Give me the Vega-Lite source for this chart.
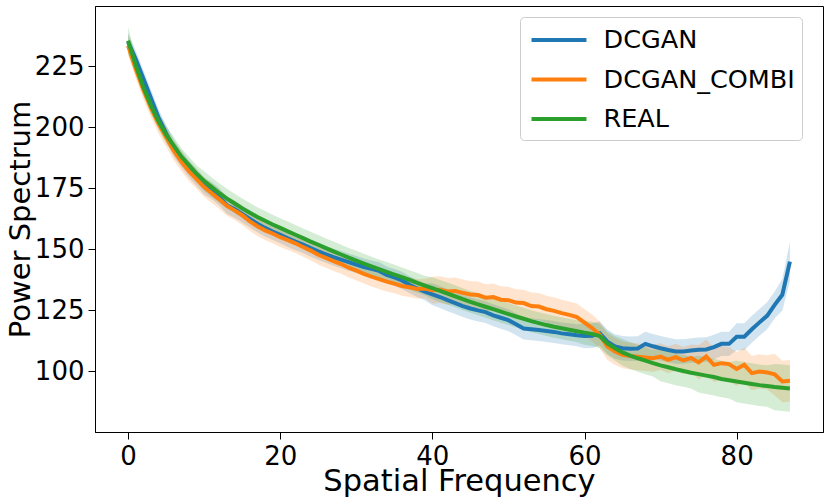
{
  "$schema": "https://vega.github.io/schema/vega-lite/v6.json",
  "autosize": {"type": "none"},
  "padding": {"left": 95, "top": 6, "right": 7, "bottom": 71},
  "width": 728,
  "height": 426,
  "config": {
    "font": "DejaVu Sans",
    "view": {"stroke": "black", "strokeWidth": 1},
    "axis": {"grid": false, "domainColor": "black", "tickColor": "black", "tickSize": 7, "labelFontSize": 26, "labelColor": "black", "titleFontWeight": "normal", "titleColor": "black", "labelPadding": 4}
  },
  "data": {"values": [
{"s":"DCGAN","x":0,"y":235,"lo":231.5,"hi":238.5},
{"s":"DCGAN","x":1,"y":228,"lo":224.5,"hi":231.5},
{"s":"DCGAN","x":2,"y":220,"lo":216.5,"hi":223.5},
{"s":"DCGAN","x":3,"y":212,"lo":208.5,"hi":215.5},
{"s":"DCGAN","x":4,"y":204,"lo":200.5,"hi":207.5},
{"s":"DCGAN","x":5,"y":197.5,"lo":194,"hi":201},
{"s":"DCGAN","x":6,"y":191.5,"lo":188,"hi":195},
{"s":"DCGAN","x":7,"y":187,"lo":183.5,"hi":190.5},
{"s":"DCGAN","x":8,"y":183,"lo":179.5,"hi":186.5},
{"s":"DCGAN","x":9,"y":179.5,"lo":176,"hi":183},
{"s":"DCGAN","x":10,"y":176,"lo":172.5,"hi":179.5},
{"s":"DCGAN","x":11,"y":174,"lo":170.5,"hi":177.5},
{"s":"DCGAN","x":12,"y":171.5,"lo":168,"hi":175},
{"s":"DCGAN","x":13,"y":168,"lo":164.5,"hi":171.5},
{"s":"DCGAN","x":14,"y":166.5,"lo":163,"hi":170},
{"s":"DCGAN","x":15,"y":164.5,"lo":161,"hi":168},
{"s":"DCGAN","x":16,"y":162.5,"lo":159,"hi":166},
{"s":"DCGAN","x":17,"y":160.5,"lo":157,"hi":164},
{"s":"DCGAN","x":18,"y":158.8,"lo":155.3,"hi":162.3},
{"s":"DCGAN","x":19,"y":157.3,"lo":153.8,"hi":160.8},
{"s":"DCGAN","x":20,"y":156,"lo":152.5,"hi":159.5},
{"s":"DCGAN","x":21,"y":154.5,"lo":151,"hi":158},
{"s":"DCGAN","x":22,"y":153.2,"lo":149.7,"hi":156.7},
{"s":"DCGAN","x":23,"y":152,"lo":148.5,"hi":155.5},
{"s":"DCGAN","x":24,"y":150.5,"lo":147,"hi":154},
{"s":"DCGAN","x":25,"y":149.2,"lo":145.7,"hi":152.7},
{"s":"DCGAN","x":26,"y":148,"lo":144.5,"hi":151.5},
{"s":"DCGAN","x":27,"y":146.8,"lo":143.3,"hi":150.3},
{"s":"DCGAN","x":28,"y":145.8,"lo":142.3,"hi":149.3},
{"s":"DCGAN","x":29,"y":144.8,"lo":141.3,"hi":148.3},
{"s":"DCGAN","x":30,"y":143.8,"lo":140.3,"hi":147.3},
{"s":"DCGAN","x":31,"y":142.8,"lo":139.3,"hi":146.3},
{"s":"DCGAN","x":32,"y":142,"lo":138.5,"hi":145.5},
{"s":"DCGAN","x":33,"y":141.2,"lo":137.7,"hi":144.7},
{"s":"DCGAN","x":34,"y":139.5,"lo":136,"hi":143},
{"s":"DCGAN","x":35,"y":138.5,"lo":135,"hi":142},
{"s":"DCGAN","x":36,"y":137.3,"lo":133.8,"hi":140.8},
{"s":"DCGAN","x":37,"y":135.5,"lo":132,"hi":139},
{"s":"DCGAN","x":38,"y":134,"lo":130.5,"hi":137.5},
{"s":"DCGAN","x":39,"y":132.7,"lo":129.2,"hi":136.2},
{"s":"DCGAN","x":40,"y":131.6,"lo":127.1,"hi":136.1},
{"s":"DCGAN","x":41,"y":130.5,"lo":126,"hi":135},
{"s":"DCGAN","x":42,"y":129.2,"lo":124.7,"hi":133.7},
{"s":"DCGAN","x":43,"y":128,"lo":123.5,"hi":132.5},
{"s":"DCGAN","x":44,"y":126.8,"lo":122.3,"hi":131.3},
{"s":"DCGAN","x":45,"y":125.8,"lo":121.3,"hi":130.3},
{"s":"DCGAN","x":46,"y":125,"lo":120.5,"hi":129.5},
{"s":"DCGAN","x":47,"y":124.3,"lo":119.8,"hi":128.8},
{"s":"DCGAN","x":48,"y":123,"lo":118.5,"hi":127.5},
{"s":"DCGAN","x":49,"y":122,"lo":117.5,"hi":126.5},
{"s":"DCGAN","x":50,"y":121,"lo":116.5,"hi":125.5},
{"s":"DCGAN","x":51,"y":119.3,"lo":114.8,"hi":123.8},
{"s":"DCGAN","x":52,"y":117.6,"lo":113.1,"hi":122.1},
{"s":"DCGAN","x":53,"y":117.3,"lo":112.8,"hi":121.8},
{"s":"DCGAN","x":54,"y":117,"lo":112.5,"hi":121.5},
{"s":"DCGAN","x":55,"y":116.6,"lo":112.1,"hi":121.1},
{"s":"DCGAN","x":56,"y":116.2,"lo":111.7,"hi":120.7},
{"s":"DCGAN","x":57,"y":115.6,"lo":111.1,"hi":120.1},
{"s":"DCGAN","x":58,"y":115.2,"lo":110.7,"hi":119.7},
{"s":"DCGAN","x":59,"y":114.8,"lo":110.3,"hi":119.3},
{"s":"DCGAN","x":60,"y":114.5,"lo":109.5,"hi":119.5},
{"s":"DCGAN","x":61,"y":114.6,"lo":109.6,"hi":119.6},
{"s":"DCGAN","x":62,"y":115.6,"lo":110.6,"hi":120.6},
{"s":"DCGAN","x":63,"y":112.2,"lo":107.2,"hi":117.2},
{"s":"DCGAN","x":64,"y":110.2,"lo":105.2,"hi":115.2},
{"s":"DCGAN","x":65,"y":109.5,"lo":104.5,"hi":114.5},
{"s":"DCGAN","x":66,"y":109.3,"lo":104.3,"hi":114.3},
{"s":"DCGAN","x":67,"y":109.4,"lo":104.4,"hi":114.4},
{"s":"DCGAN","x":68,"y":111.3,"lo":106.3,"hi":116.3},
{"s":"DCGAN","x":69,"y":110.3,"lo":105.3,"hi":115.3},
{"s":"DCGAN","x":70,"y":109.5,"lo":104.5,"hi":114.5},
{"s":"DCGAN","x":71,"y":108.8,"lo":103.8,"hi":113.8},
{"s":"DCGAN","x":72,"y":108.2,"lo":103.2,"hi":113.2},
{"s":"DCGAN","x":73,"y":108.2,"lo":103.2,"hi":113.2},
{"s":"DCGAN","x":74,"y":108.6,"lo":103.6,"hi":113.6},
{"s":"DCGAN","x":75,"y":108.9,"lo":103.9,"hi":113.9},
{"s":"DCGAN","x":76,"y":109,"lo":104,"hi":114},
{"s":"DCGAN","x":77,"y":110,"lo":105,"hi":115},
{"s":"DCGAN","x":78,"y":111.3,"lo":106.3,"hi":116.3},
{"s":"DCGAN","x":79,"y":111.3,"lo":106.3,"hi":116.3},
{"s":"DCGAN","x":80,"y":114.2,"lo":108.7,"hi":119.7},
{"s":"DCGAN","x":81,"y":114.2,"lo":108.7,"hi":119.7},
{"s":"DCGAN","x":82,"y":117.3,"lo":111.8,"hi":122.8},
{"s":"DCGAN","x":83,"y":120.1,"lo":114.6,"hi":125.6},
{"s":"DCGAN","x":84,"y":122.8,"lo":117.3,"hi":128.3},
{"s":"DCGAN","x":85,"y":127.3,"lo":121.8,"hi":132.8},
{"s":"DCGAN","x":86,"y":131.4,"lo":124.9,"hi":137.9},
{"s":"DCGAN","x":87,"y":145,"lo":137,"hi":153},
{"s":"DCGAN_COMBI","x":0,"y":233.5,"lo":229.5,"hi":237.5},
{"s":"DCGAN_COMBI","x":1,"y":224,"lo":220,"hi":228},
{"s":"DCGAN_COMBI","x":2,"y":215.5,"lo":211.5,"hi":219.5},
{"s":"DCGAN_COMBI","x":3,"y":208,"lo":204,"hi":212},
{"s":"DCGAN_COMBI","x":4,"y":201.5,"lo":197.5,"hi":205.5},
{"s":"DCGAN_COMBI","x":5,"y":196,"lo":192,"hi":200},
{"s":"DCGAN_COMBI","x":6,"y":190.5,"lo":186.5,"hi":194.5},
{"s":"DCGAN_COMBI","x":7,"y":186,"lo":182,"hi":190},
{"s":"DCGAN_COMBI","x":8,"y":182,"lo":178,"hi":186},
{"s":"DCGAN_COMBI","x":9,"y":178.8,"lo":174.8,"hi":182.8},
{"s":"DCGAN_COMBI","x":10,"y":175.5,"lo":171.5,"hi":179.5},
{"s":"DCGAN_COMBI","x":11,"y":173,"lo":169,"hi":177},
{"s":"DCGAN_COMBI","x":12,"y":170.5,"lo":166.5,"hi":174.5},
{"s":"DCGAN_COMBI","x":13,"y":167.8,"lo":163.8,"hi":171.8},
{"s":"DCGAN_COMBI","x":14,"y":166,"lo":162,"hi":170},
{"s":"DCGAN_COMBI","x":15,"y":164,"lo":160,"hi":168},
{"s":"DCGAN_COMBI","x":16,"y":161.5,"lo":157.5,"hi":165.5},
{"s":"DCGAN_COMBI","x":17,"y":159.5,"lo":155.5,"hi":163.5},
{"s":"DCGAN_COMBI","x":18,"y":157.8,"lo":153.8,"hi":161.8},
{"s":"DCGAN_COMBI","x":19,"y":156.5,"lo":152.5,"hi":160.5},
{"s":"DCGAN_COMBI","x":20,"y":155,"lo":151,"hi":159},
{"s":"DCGAN_COMBI","x":21,"y":153.8,"lo":149.8,"hi":157.8},
{"s":"DCGAN_COMBI","x":22,"y":152.5,"lo":148.5,"hi":156.5},
{"s":"DCGAN_COMBI","x":23,"y":151,"lo":147,"hi":155},
{"s":"DCGAN_COMBI","x":24,"y":149.5,"lo":145.5,"hi":153.5},
{"s":"DCGAN_COMBI","x":25,"y":147.8,"lo":143.8,"hi":151.8},
{"s":"DCGAN_COMBI","x":26,"y":146.5,"lo":142.5,"hi":150.5},
{"s":"DCGAN_COMBI","x":27,"y":145.2,"lo":141.2,"hi":149.2},
{"s":"DCGAN_COMBI","x":28,"y":144,"lo":140,"hi":148},
{"s":"DCGAN_COMBI","x":29,"y":142.5,"lo":138.5,"hi":146.5},
{"s":"DCGAN_COMBI","x":30,"y":141.3,"lo":137.3,"hi":145.3},
{"s":"DCGAN_COMBI","x":31,"y":140,"lo":136,"hi":144},
{"s":"DCGAN_COMBI","x":32,"y":138.8,"lo":134.8,"hi":142.8},
{"s":"DCGAN_COMBI","x":33,"y":137.8,"lo":133.8,"hi":141.8},
{"s":"DCGAN_COMBI","x":34,"y":136.8,"lo":132.8,"hi":140.8},
{"s":"DCGAN_COMBI","x":35,"y":136,"lo":132,"hi":140},
{"s":"DCGAN_COMBI","x":36,"y":135,"lo":131,"hi":139},
{"s":"DCGAN_COMBI","x":37,"y":134.5,"lo":130.5,"hi":138.5},
{"s":"DCGAN_COMBI","x":38,"y":133.8,"lo":129.8,"hi":137.8},
{"s":"DCGAN_COMBI","x":39,"y":134,"lo":130,"hi":138},
{"s":"DCGAN_COMBI","x":40,"y":133.3,"lo":127.8,"hi":138.8},
{"s":"DCGAN_COMBI","x":41,"y":133.5,"lo":128,"hi":139},
{"s":"DCGAN_COMBI","x":42,"y":132.8,"lo":127.3,"hi":138.3},
{"s":"DCGAN_COMBI","x":43,"y":133,"lo":127.5,"hi":138.5},
{"s":"DCGAN_COMBI","x":44,"y":132.2,"lo":126.7,"hi":137.7},
{"s":"DCGAN_COMBI","x":45,"y":131.5,"lo":126,"hi":137},
{"s":"DCGAN_COMBI","x":46,"y":131.3,"lo":125.8,"hi":136.8},
{"s":"DCGAN_COMBI","x":47,"y":130.2,"lo":124.7,"hi":135.7},
{"s":"DCGAN_COMBI","x":48,"y":130.5,"lo":125,"hi":136},
{"s":"DCGAN_COMBI","x":49,"y":129.4,"lo":123.9,"hi":134.9},
{"s":"DCGAN_COMBI","x":50,"y":129.2,"lo":123.7,"hi":134.7},
{"s":"DCGAN_COMBI","x":51,"y":128.2,"lo":122.7,"hi":133.7},
{"s":"DCGAN_COMBI","x":52,"y":128,"lo":122.5,"hi":133.5},
{"s":"DCGAN_COMBI","x":53,"y":126.8,"lo":121.3,"hi":132.3},
{"s":"DCGAN_COMBI","x":54,"y":126.6,"lo":121.1,"hi":132.1},
{"s":"DCGAN_COMBI","x":55,"y":125.5,"lo":120,"hi":131},
{"s":"DCGAN_COMBI","x":56,"y":124.8,"lo":119.3,"hi":130.3},
{"s":"DCGAN_COMBI","x":57,"y":123.9,"lo":118.4,"hi":129.4},
{"s":"DCGAN_COMBI","x":58,"y":123.2,"lo":117.7,"hi":128.7},
{"s":"DCGAN_COMBI","x":59,"y":122.3,"lo":116.8,"hi":127.8},
{"s":"DCGAN_COMBI","x":60,"y":120,"lo":114.5,"hi":125.5},
{"s":"DCGAN_COMBI","x":61,"y":117.8,"lo":112.3,"hi":123.3},
{"s":"DCGAN_COMBI","x":62,"y":115,"lo":109.5,"hi":120.5},
{"s":"DCGAN_COMBI","x":63,"y":110.2,"lo":104.7,"hi":115.7},
{"s":"DCGAN_COMBI","x":64,"y":108.2,"lo":102.7,"hi":113.7},
{"s":"DCGAN_COMBI","x":65,"y":106.8,"lo":101.3,"hi":112.3},
{"s":"DCGAN_COMBI","x":66,"y":106.3,"lo":100.8,"hi":111.8},
{"s":"DCGAN_COMBI","x":67,"y":106,"lo":100.5,"hi":111.5},
{"s":"DCGAN_COMBI","x":68,"y":105.7,"lo":100.2,"hi":111.2},
{"s":"DCGAN_COMBI","x":69,"y":105.4,"lo":99.9,"hi":110.9},
{"s":"DCGAN_COMBI","x":70,"y":106.1,"lo":100.6,"hi":111.6},
{"s":"DCGAN_COMBI","x":71,"y":104.8,"lo":99.3,"hi":110.3},
{"s":"DCGAN_COMBI","x":72,"y":105.9,"lo":100.4,"hi":111.4},
{"s":"DCGAN_COMBI","x":73,"y":104.5,"lo":99,"hi":110},
{"s":"DCGAN_COMBI","x":74,"y":105.5,"lo":100,"hi":111},
{"s":"DCGAN_COMBI","x":75,"y":103.7,"lo":96.7,"hi":110.7},
{"s":"DCGAN_COMBI","x":76,"y":106.1,"lo":99.1,"hi":113.1},
{"s":"DCGAN_COMBI","x":77,"y":102.7,"lo":95.7,"hi":109.7},
{"s":"DCGAN_COMBI","x":78,"y":103.4,"lo":96.4,"hi":110.4},
{"s":"DCGAN_COMBI","x":79,"y":103,"lo":96,"hi":110},
{"s":"DCGAN_COMBI","x":80,"y":101,"lo":94,"hi":108},
{"s":"DCGAN_COMBI","x":81,"y":102.7,"lo":95.7,"hi":109.7},
{"s":"DCGAN_COMBI","x":82,"y":99.3,"lo":92.3,"hi":106.3},
{"s":"DCGAN_COMBI","x":83,"y":100,"lo":93,"hi":107},
{"s":"DCGAN_COMBI","x":84,"y":99.6,"lo":92.6,"hi":106.6},
{"s":"DCGAN_COMBI","x":85,"y":98.8,"lo":90.3,"hi":107.3},
{"s":"DCGAN_COMBI","x":86,"y":95.9,"lo":87.4,"hi":104.4},
{"s":"DCGAN_COMBI","x":87,"y":96.2,"lo":87.7,"hi":104.7},
{"s":"REAL","x":0,"y":235.5,"lo":230,"hi":241},
{"s":"REAL","x":1,"y":225.5,"lo":222,"hi":229},
{"s":"REAL","x":2,"y":216.5,"lo":213,"hi":220},
{"s":"REAL","x":3,"y":209,"lo":205.5,"hi":212.5},
{"s":"REAL","x":4,"y":202.5,"lo":199,"hi":206},
{"s":"REAL","x":5,"y":197,"lo":193.5,"hi":200.5},
{"s":"REAL","x":6,"y":192.5,"lo":189,"hi":196},
{"s":"REAL","x":7,"y":188,"lo":184.5,"hi":191.5},
{"s":"REAL","x":8,"y":184.5,"lo":181,"hi":188},
{"s":"REAL","x":9,"y":181,"lo":177.5,"hi":184.5},
{"s":"REAL","x":10,"y":178,"lo":174,"hi":182},
{"s":"REAL","x":11,"y":175.5,"lo":171.5,"hi":179.5},
{"s":"REAL","x":12,"y":173,"lo":169,"hi":177},
{"s":"REAL","x":13,"y":170.8,"lo":166.8,"hi":174.8},
{"s":"REAL","x":14,"y":168.8,"lo":164.8,"hi":172.8},
{"s":"REAL","x":15,"y":166.8,"lo":162.8,"hi":170.8},
{"s":"REAL","x":16,"y":165,"lo":161,"hi":169},
{"s":"REAL","x":17,"y":163.3,"lo":159.3,"hi":167.3},
{"s":"REAL","x":18,"y":161.7,"lo":157.7,"hi":165.7},
{"s":"REAL","x":19,"y":160.2,"lo":156.2,"hi":164.2},
{"s":"REAL","x":20,"y":158.8,"lo":154.8,"hi":162.8},
{"s":"REAL","x":21,"y":157.4,"lo":153.4,"hi":161.4},
{"s":"REAL","x":22,"y":156,"lo":152,"hi":160},
{"s":"REAL","x":23,"y":154.6,"lo":150.6,"hi":158.6},
{"s":"REAL","x":24,"y":153.2,"lo":149.2,"hi":157.2},
{"s":"REAL","x":25,"y":151.9,"lo":147.9,"hi":155.9},
{"s":"REAL","x":26,"y":150.5,"lo":146.5,"hi":154.5},
{"s":"REAL","x":27,"y":149.2,"lo":145.2,"hi":153.2},
{"s":"REAL","x":28,"y":147.9,"lo":143.9,"hi":151.9},
{"s":"REAL","x":29,"y":146.6,"lo":142.6,"hi":150.6},
{"s":"REAL","x":30,"y":145.4,"lo":141.4,"hi":149.4},
{"s":"REAL","x":31,"y":144.2,"lo":140.2,"hi":148.2},
{"s":"REAL","x":32,"y":143,"lo":139,"hi":147},
{"s":"REAL","x":33,"y":141.9,"lo":137.9,"hi":145.9},
{"s":"REAL","x":34,"y":140.8,"lo":136.8,"hi":144.8},
{"s":"REAL","x":35,"y":139.7,"lo":135.7,"hi":143.7},
{"s":"REAL","x":36,"y":138.6,"lo":134.6,"hi":142.6},
{"s":"REAL","x":37,"y":137.5,"lo":133.5,"hi":141.5},
{"s":"REAL","x":38,"y":136.3,"lo":132.3,"hi":140.3},
{"s":"REAL","x":39,"y":135.2,"lo":131.2,"hi":139.2},
{"s":"REAL","x":40,"y":134.1,"lo":129.6,"hi":138.6},
{"s":"REAL","x":41,"y":133,"lo":128.5,"hi":137.5},
{"s":"REAL","x":42,"y":131.9,"lo":127.4,"hi":136.4},
{"s":"REAL","x":43,"y":130.8,"lo":126.3,"hi":135.3},
{"s":"REAL","x":44,"y":129.6,"lo":125.1,"hi":134.1},
{"s":"REAL","x":45,"y":128.5,"lo":124,"hi":133},
{"s":"REAL","x":46,"y":127.5,"lo":123,"hi":132},
{"s":"REAL","x":47,"y":126.5,"lo":122,"hi":131},
{"s":"REAL","x":48,"y":125.5,"lo":121,"hi":130},
{"s":"REAL","x":49,"y":124.5,"lo":120,"hi":129},
{"s":"REAL","x":50,"y":123.5,"lo":119,"hi":128},
{"s":"REAL","x":51,"y":122.5,"lo":118,"hi":127},
{"s":"REAL","x":52,"y":121.6,"lo":117.1,"hi":126.1},
{"s":"REAL","x":53,"y":120.6,"lo":116.1,"hi":125.1},
{"s":"REAL","x":54,"y":119.8,"lo":115.3,"hi":124.3},
{"s":"REAL","x":55,"y":119,"lo":114.5,"hi":123.5},
{"s":"REAL","x":56,"y":118.3,"lo":113.8,"hi":122.8},
{"s":"REAL","x":57,"y":117.7,"lo":113.2,"hi":122.2},
{"s":"REAL","x":58,"y":117.1,"lo":112.6,"hi":121.6},
{"s":"REAL","x":59,"y":116.5,"lo":112,"hi":121},
{"s":"REAL","x":60,"y":115.9,"lo":110.9,"hi":120.9},
{"s":"REAL","x":61,"y":115.4,"lo":110.4,"hi":120.4},
{"s":"REAL","x":62,"y":114.5,"lo":109.5,"hi":119.5},
{"s":"REAL","x":63,"y":111.5,"lo":106.5,"hi":116.5},
{"s":"REAL","x":64,"y":109.5,"lo":104.5,"hi":114.5},
{"s":"REAL","x":65,"y":107.8,"lo":102.3,"hi":113.3},
{"s":"REAL","x":66,"y":106.5,"lo":101,"hi":112},
{"s":"REAL","x":67,"y":105.4,"lo":99.9,"hi":110.9},
{"s":"REAL","x":68,"y":104.4,"lo":98.9,"hi":109.9},
{"s":"REAL","x":69,"y":103.4,"lo":97.9,"hi":108.9},
{"s":"REAL","x":70,"y":102.5,"lo":96,"hi":109},
{"s":"REAL","x":71,"y":101.7,"lo":95.2,"hi":108.2},
{"s":"REAL","x":72,"y":100.9,"lo":94.4,"hi":107.4},
{"s":"REAL","x":73,"y":100.2,"lo":93.7,"hi":106.7},
{"s":"REAL","x":74,"y":99.5,"lo":93,"hi":106},
{"s":"REAL","x":75,"y":98.9,"lo":91.4,"hi":106.4},
{"s":"REAL","x":76,"y":98.3,"lo":90.8,"hi":105.8},
{"s":"REAL","x":77,"y":97.7,"lo":90.2,"hi":105.2},
{"s":"REAL","x":78,"y":96.9,"lo":89.4,"hi":104.4},
{"s":"REAL","x":79,"y":96.4,"lo":88.9,"hi":103.9},
{"s":"REAL","x":80,"y":95.9,"lo":87.4,"hi":104.4},
{"s":"REAL","x":81,"y":95.4,"lo":86.9,"hi":103.9},
{"s":"REAL","x":82,"y":94.9,"lo":86.4,"hi":103.4},
{"s":"REAL","x":83,"y":94.4,"lo":85.9,"hi":102.9},
{"s":"REAL","x":84,"y":94,"lo":85.5,"hi":102.5},
{"s":"REAL","x":85,"y":93.6,"lo":84.1,"hi":103.1},
{"s":"REAL","x":86,"y":93.3,"lo":83.8,"hi":102.8},
{"s":"REAL","x":87,"y":93,"lo":83.5,"hi":102.5}
  ]},
  "encoding": {
    "x": {"field": "x", "type": "quantitative", "scale": {"domain": [-4.35, 91.35], "nice": false, "zero": false}, "axis": {"values": [0, 20, 40, 60, 80], "title": "Spatial Frequency", "titleFontSize": 30.5, "titlePadding": -3}},
    "color": {"field": "s", "type": "nominal", "scale": {"domain": ["DCGAN", "DCGAN_COMBI", "REAL"], "range": ["#1f77b4", "#ff7f0e", "#2ca02c"]}, "legend": {"orient": "none", "legendX": 425, "legendY": 11, "title": null, "symbolType": "M-2,0H2", "symbolSize": 756, "symbolOffset": 16, "symbolStrokeWidth": 4, "symbolOpacity": 1, "labelFontSize": 25.5, "labelColor": "black", "rowPadding": 9.5, "padding": 7, "strokeColor": "#cccccc", "cornerRadius": 4, "fillColor": "white", "labelOffset": 28.5, "labelLimit": 400}}
  },
  "layer": [
    {
      "mark": {"type": "area", "fillOpacity": 0.2, "interpolate": "linear"},
      "encoding": {
        "y": {"field": "lo", "type": "quantitative", "scale": {"domain": [75.2, 249.7], "nice": false, "zero": false}, "axis": {"values": [100, 125, 150, 175, 200, 225], "title": "Power Spectrum", "titleFontSize": 29, "titlePadding": -1}},
        "y2": {"field": "hi"}
      }
    },
    {
      "mark": {"type": "line", "strokeWidth": 4},
      "encoding": {
        "y": {"field": "y", "type": "quantitative"}
      }
    }
  ]
}
